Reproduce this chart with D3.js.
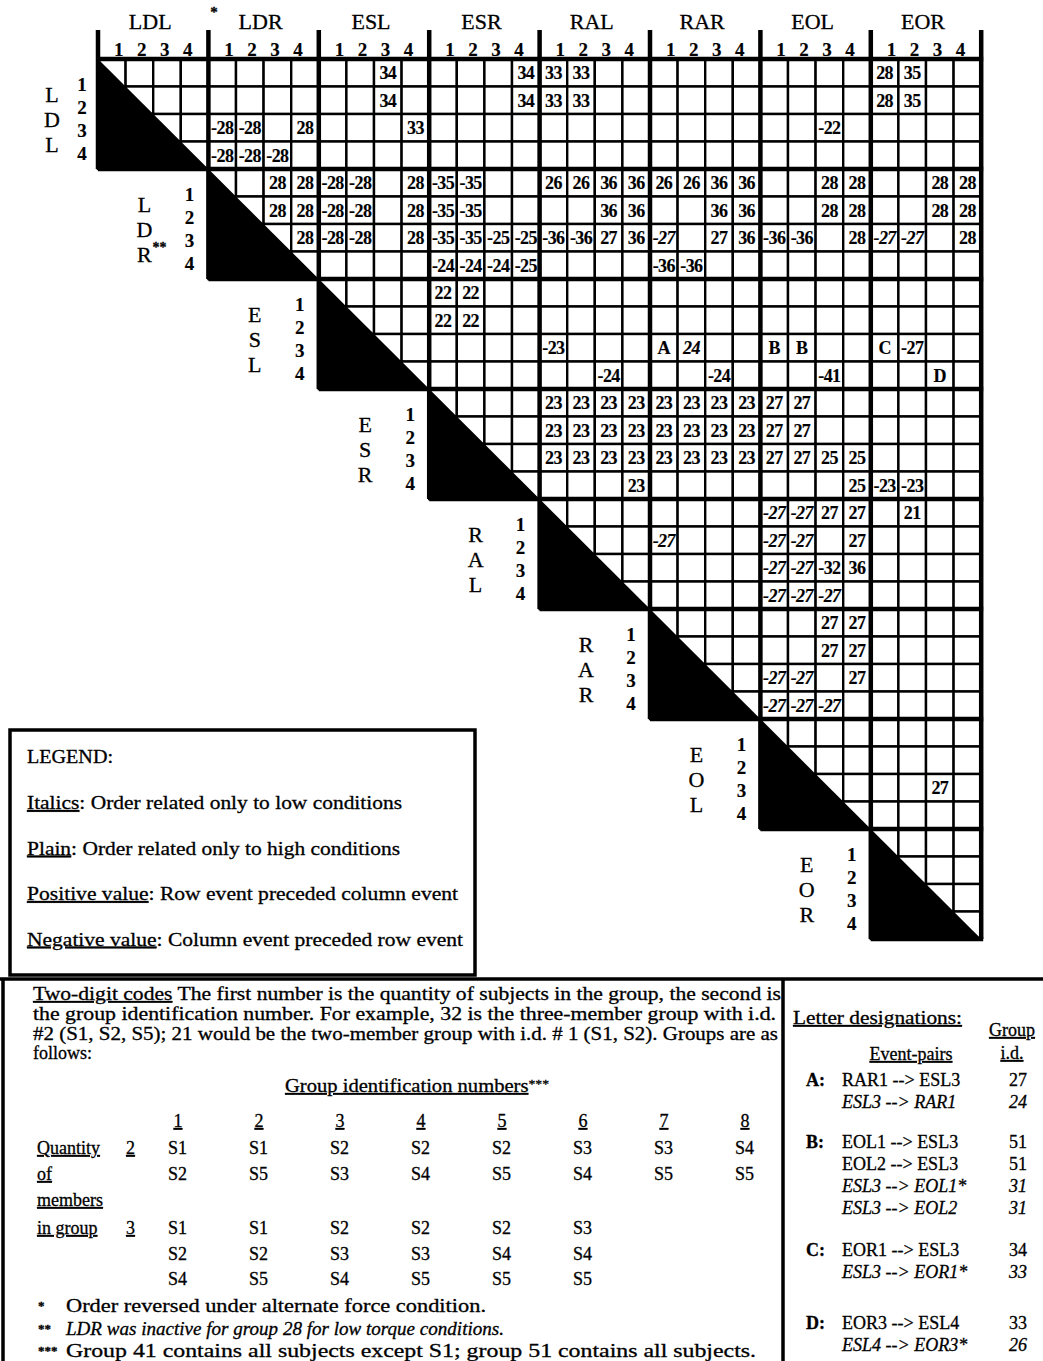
<!DOCTYPE html>
<html>
<head>
<meta charset="utf-8">
<script src="https://cdn.jsdelivr.net/npm/d3@7"></script>
<style>
body { margin: 0; background: #fff; }
text { font-family: "Liberation Serif", "DejaVu Serif", serif; fill: #000; stroke: #000; stroke-width: 0.3; }
text.bold { stroke-width: 0.15; }
</style>
</head>
<body>
<svg id="chart" width="1043" height="1361"></svg>
<script>
// event groups and their stacked row letters
const groups = ['LDL', 'LDR', 'ESL', 'ESR', 'RAL', 'RAR', 'EOL', 'EOR'];
const rowLetters = [['L','D','L'], ['L','D','R'], ['E','S','L'], ['E','S','R'],
                    ['R','A','L'], ['R','A','R'], ['E','O','L'], ['E','O','R']];
const subNums = ['1', '2', '3', '4'];

// [row event, column event, code, italic]
const cells = [
  ['LDL1','ESL3','34'], ['LDL1','ESR4','34'], ['LDL1','RAL1','33'], ['LDL1','RAL2','33'], ['LDL1','EOR1','28'], ['LDL1','EOR2','35'],
  ['LDL2','ESL3','34'], ['LDL2','ESR4','34'], ['LDL2','RAL1','33'], ['LDL2','RAL2','33'], ['LDL2','EOR1','28'], ['LDL2','EOR2','35'],
  ['LDL3','LDR1','-28'], ['LDL3','LDR2','-28'], ['LDL3','LDR4','28'], ['LDL3','ESL4','33'], ['LDL3','EOL3','-22'],
  ['LDL4','LDR1','-28'], ['LDL4','LDR2','-28'], ['LDL4','LDR3','-28'],
  ['LDR1','LDR3','28'], ['LDR1','LDR4','28'], ['LDR1','ESL1','-28'], ['LDR1','ESL2','-28'], ['LDR1','ESL4','28'],
  ['LDR1','ESR1','-35'], ['LDR1','ESR2','-35'], ['LDR1','RAL1','26'], ['LDR1','RAL2','26'], ['LDR1','RAL3','36'], ['LDR1','RAL4','36'],
  ['LDR1','RAR1','26'], ['LDR1','RAR2','26'], ['LDR1','RAR3','36'], ['LDR1','RAR4','36'],
  ['LDR1','EOL3','28'], ['LDR1','EOL4','28'], ['LDR1','EOR3','28'], ['LDR1','EOR4','28'],
  ['LDR2','LDR3','28'], ['LDR2','LDR4','28'], ['LDR2','ESL1','-28'], ['LDR2','ESL2','-28'], ['LDR2','ESL4','28'],
  ['LDR2','ESR1','-35'], ['LDR2','ESR2','-35'], ['LDR2','RAL3','36'], ['LDR2','RAL4','36'], ['LDR2','RAR3','36'], ['LDR2','RAR4','36'],
  ['LDR2','EOL3','28'], ['LDR2','EOL4','28'], ['LDR2','EOR3','28'], ['LDR2','EOR4','28'],
  ['LDR3','LDR4','28'], ['LDR3','ESL1','-28'], ['LDR3','ESL2','-28'], ['LDR3','ESL4','28'],
  ['LDR3','ESR1','-35'], ['LDR3','ESR2','-35'], ['LDR3','ESR3','-25'], ['LDR3','ESR4','-25'],
  ['LDR3','RAL1','-36'], ['LDR3','RAL2','-36'], ['LDR3','RAL3','27'], ['LDR3','RAL4','36'],
  ['LDR3','RAR1','-27',1], ['LDR3','RAR3','27'], ['LDR3','RAR4','36'],
  ['LDR3','EOL1','-36'], ['LDR3','EOL2','-36'], ['LDR3','EOL4','28'],
  ['LDR3','EOR1','-27',1], ['LDR3','EOR2','-27',1], ['LDR3','EOR4','28'],
  ['LDR4','ESR1','-24'], ['LDR4','ESR2','-24'], ['LDR4','ESR3','-24'], ['LDR4','ESR4','-25'], ['LDR4','RAR1','-36'], ['LDR4','RAR2','-36'],
  ['ESL1','ESR1','22'], ['ESL1','ESR2','22'], ['ESL2','ESR1','22'], ['ESL2','ESR2','22'],
  ['ESL3','RAL1','-23'], ['ESL3','RAR1','A'], ['ESL3','RAR2','24',1], ['ESL3','EOL1','B'], ['ESL3','EOL2','B'],
  ['ESL3','EOR1','C'], ['ESL3','EOR2','-27'],
  ['ESL4','RAL3','-24'], ['ESL4','RAR3','-24'], ['ESL4','EOL3','-41'], ['ESL4','EOR3','D'],
  ['ESR1','RAL1','23'], ['ESR1','RAL2','23'], ['ESR1','RAL3','23'], ['ESR1','RAL4','23'],
  ['ESR1','RAR1','23'], ['ESR1','RAR2','23'], ['ESR1','RAR3','23'], ['ESR1','RAR4','23'], ['ESR1','EOL1','27'], ['ESR1','EOL2','27'],
  ['ESR2','RAL1','23'], ['ESR2','RAL2','23'], ['ESR2','RAL3','23'], ['ESR2','RAL4','23'],
  ['ESR2','RAR1','23'], ['ESR2','RAR2','23'], ['ESR2','RAR3','23'], ['ESR2','RAR4','23'], ['ESR2','EOL1','27'], ['ESR2','EOL2','27'],
  ['ESR3','RAL1','23'], ['ESR3','RAL2','23'], ['ESR3','RAL3','23'], ['ESR3','RAL4','23'],
  ['ESR3','RAR1','23'], ['ESR3','RAR2','23'], ['ESR3','RAR3','23'], ['ESR3','RAR4','23'],
  ['ESR3','EOL1','27'], ['ESR3','EOL2','27'], ['ESR3','EOL3','25'], ['ESR3','EOL4','25'],
  ['ESR4','RAL4','23'], ['ESR4','EOL4','25'], ['ESR4','EOR1','-23'], ['ESR4','EOR2','-23'],
  ['RAL1','EOL1','-27',1], ['RAL1','EOL2','-27',1], ['RAL1','EOL3','27'], ['RAL1','EOL4','27'], ['RAL1','EOR2','21'],
  ['RAL2','RAR1','-27',1], ['RAL2','EOL1','-27',1], ['RAL2','EOL2','-27',1], ['RAL2','EOL4','27'],
  ['RAL3','EOL1','-27',1], ['RAL3','EOL2','-27',1], ['RAL3','EOL3','-32'], ['RAL3','EOL4','36'],
  ['RAL4','EOL1','-27',1], ['RAL4','EOL2','-27',1], ['RAL4','EOL3','-27',1],
  ['RAR1','EOL3','27'], ['RAR1','EOL4','27'], ['RAR2','EOL3','27'], ['RAR2','EOL4','27'],
  ['RAR3','EOL1','-27',1], ['RAR3','EOL2','-27',1], ['RAR3','EOL4','27'],
  ['RAR4','EOL1','-27',1], ['RAR4','EOL2','-27',1], ['RAR4','EOL3','-27',1],
  ['EOL3','EOR3','27']
];

// legend and notes
const legendLines = [
  ['Italics', ':  Order related only to low conditions', 375],
  ['Plain', ':  Order related only to high conditions', 373],
  ['Positive value', ':  Row event  preceded column event', 431],
  ['Negative value', ':  Column event preceded row event', 436]
];
const groupIds = ['1', '2', '3', '4', '5', '6', '7', '8'];
const pairGroups = [['S1','S2'], ['S1','S5'], ['S2','S3'], ['S2','S4'], ['S2','S5'], ['S3','S4'], ['S3','S5'], ['S4','S5']];
const tripleGroups = [['S1','S2','S4'], ['S1','S2','S5'], ['S2','S3','S4'], ['S2','S3','S5'], ['S2','S4','S5'], ['S3','S4','S5']];
// [letter, pair, group id, italic]
const letterPairs = [
  ['A:', 'RAR1 --> ESL3', '27', 0], ['', 'ESL3 --> RAR1', '24', 1],
  ['B:', 'EOL1 --> ESL3', '51', 0], ['', 'EOL2 --> ESL3', '51', 0], ['', 'ESL3 --> EOL1*', '31', 1], ['', 'ESL3 --> EOL2', '31', 1],
  ['C:', 'EOR1 --> ESL3', '34', 0], ['', 'ESL3 --> EOR1*', '33', 1],
  ['D:', 'EOR3 --> ESL4', '33', 0], ['', 'ESL4 --> EOR3*', '26', 1]
];
const letterRowY = [1080, 1102, 1142, 1164, 1186, 1208, 1250, 1272, 1323, 1345];

const svg = d3.select('#chart');
const events = groups.flatMap(g => subNums.map(n => g + n));

const x0 = 98, y0 = 59, cw = 27.6, ch = 27.5;
const xScale = d3.scaleBand().domain(events).range([x0, x0 + 32 * cw]);
const yScale = d3.scaleBand().domain(events).range([y0, y0 + 32 * ch]);
const gxScale = d3.scaleBand().domain(groups).range([x0, x0 + 32 * cw]);
const gyScale = d3.scaleBand().domain(groups).range([y0, y0 + 32 * ch]);
const bw = gxScale.bandwidth(), bh = gyScale.bandwidth();

// cells of the upper triangle
const grid = [];
events.forEach((r, i) => {
  events.forEach((c, j) => {
    if (j >= 4 * Math.floor(i / 4)) grid.push({ r, c });
  });
});

svg.append('g')
  .selectAll('rect')
  .data(grid)
  .enter()
  .append('rect')
  .attr('x', d => xScale(d.c))
  .attr('y', d => yScale(d.r))
  .attr('width', xScale.bandwidth())
  .attr('height', yScale.bandwidth())
  .attr('fill', '#fff')
  .attr('stroke', '#000')
  .attr('stroke-width', 2.4);

// black triangles on the diagonal blocks
svg.append('g')
  .selectAll('path')
  .data(groups)
  .enter()
  .append('path')
  .attr('d', g => {
    const x = gxScale(g), y = gyScale(g);
    return `M${x},${y} L${x + bw},${y + bh} L${x},${y + bh} Z`;
  })
  .attr('fill', '#000');

// heavy group lines
const right = x0 + 32 * cw, bottom = y0 + 32 * ch;
const thick = svg.append('g').attr('stroke', '#000').attr('stroke-width', 4.5);
d3.range(9).forEach(k => {
  const x = x0 + k * bw;
  thick.append('line')
    .attr('x1', x).attr('x2', x)
    .attr('y1', 30)
    .attr('y2', k < 8 ? y0 + (k + 1) * bh : bottom);
  const y = y0 + k * bh;
  thick.append('line')
    .attr('y1', y).attr('y2', y)
    .attr('x1', k === 0 ? x0 : x0 + (k - 1) * bw)
    .attr('x2', right + 2);
});

// column headers
groups.forEach(g => {
  const cx = gxScale(g) + bw / 2;
  svg.append('text')
    .attr('x', cx - 3).attr('y', 29)
    .attr('text-anchor', 'middle')
    .attr('font-size', 22)
    .text(g);
  subNums.forEach((n, i) => {
    svg.append('text').attr('class', 'bold')
      .attr('x', cx + (i - 1.5) * 23).attr('y', 56)
      .attr('text-anchor', 'middle')
      .attr('font-size', 19).attr('font-weight', 'bold')
      .text(n);
  });
});
svg.append('text').attr('x', 214).attr('y', 17).attr('text-anchor', 'middle')
  .attr('font-size', 15).attr('font-weight', 'bold').text('*');

// row labels
groups.forEach((g, gi) => {
  const left = gxScale(g), cy = gyScale(g) + bh / 2 + 5;
  const numX = gi === 0 ? 82 : left - 19;
  const letX = gi === 0 ? 52 : left - 64;
  subNums.forEach((n, i) => {
    svg.append('text').attr('class', 'bold')
      .attr('x', numX).attr('y', cy + (i - 1.5) * 23)
      .attr('dy', '0.35em')
      .attr('text-anchor', 'middle')
      .attr('font-size', 19).attr('font-weight', 'bold')
      .text(n);
  });
  rowLetters[gi].forEach((t, i) => {
    const lt = svg.append('text')
      .attr('x', letX).attr('y', cy + (i - 1) * 25)
      .attr('dy', '0.35em')
      .attr('text-anchor', 'middle')
      .attr('font-size', 22)
      .text(t);
    if (gi === 1 && i === 2) {
      svg.append('text').attr('x', letX + 8).attr('y', cy + 25 - 2)
        .attr('font-size', 14).attr('font-weight', 'bold').text('**');
    }
  });
});

// cell codes
svg.append('g')
  .selectAll('text')
  .data(cells)
  .enter()
  .append('text')
  .attr('class', 'bold')
  .attr('x', d => xScale(d[1]) + xScale.bandwidth() / 2)
  .attr('y', d => yScale(d[0]) + yScale.bandwidth() / 2)
  .attr('dy', '0.36em')
  .attr('text-anchor', 'middle')
  .attr('font-size', 18)
  .attr('font-weight', 'bold')
  .attr('font-style', d => d[3] ? 'italic' : 'normal')
  .attr('letter-spacing', -0.6)
  .text(d => d[2]);

// legend box
svg.append('rect')
  .attr('x', 10).attr('y', 730).attr('width', 465).attr('height', 245)
  .attr('fill', 'none').attr('stroke', '#000').attr('stroke-width', 3.5);
svg.append('text').attr('x', 27).attr('y', 763).attr('font-size', 18)
  .attr('textLength', 86).attr('lengthAdjust', 'spacingAndGlyphs').text('LEGEND:');
legendLines.forEach((d, i) => {
  const t = svg.append('text')
    .attr('x', 27).attr('y', 809 + i * 45.5)
    .attr('font-size', 19)
    .attr('textLength', d[2]).attr('lengthAdjust', 'spacingAndGlyphs');
  t.append('tspan').style('text-decoration', 'underline').text(d[0]);
  t.append('tspan').text(d[1]);
});

// notes frame
const frame = svg.append('g').attr('stroke', '#000').attr('stroke-width', 3.5);
frame.append('line').attr('x1', 0).attr('x2', 1043).attr('y1', 979).attr('y2', 979);
frame.append('line').attr('x1', 3).attr('x2', 3).attr('y1', 979).attr('y2', 1361);
frame.append('line').attr('x1', 783).attr('x2', 783).attr('y1', 979).attr('y2', 1361);

const para = [
  [['Two-digit codes', 'u'], ['  The first number is the quantity of subjects in the group, the second is', '']],
  [['the group identification number.  For example, 32 is the three-member group with i.d.', '']],
  [['#2 (S1, S2, S5); 21 would be the two-member group with i.d. # 1 (S1, S2).  Groups are as', '']],
  [['follows:', '']]
];
const paraLen = [748, 743, 745, 0];
const paraY = [1000, 1020, 1040, 1059];
para.forEach((parts, i) => {
  const t = svg.append('text').attr('x', 33).attr('y', paraY[i]).attr('font-size', 18);
  if (paraLen[i]) t.attr('textLength', paraLen[i]).attr('lengthAdjust', 'spacingAndGlyphs');
  parts.forEach(p => {
    const s = t.append('tspan').text(p[0]);
    if (p[1] === 'u') s.style('text-decoration', 'underline');
  });
});

const gidTitle = svg.append('text').attr('x', 285).attr('y', 1092).attr('font-size', 18)
  .attr('textLength', 264).attr('lengthAdjust', 'spacingAndGlyphs');
gidTitle.append('tspan').style('text-decoration', 'underline').text('Group identification numbers');
gidTitle.append('tspan').attr('font-size', 12).attr('dy', -4).text('***');

const colX = d3.scaleBand().domain(groupIds).range([168, 168 + 8 * 81]);
svg.selectAll('.gid')
  .data(groupIds)
  .enter()
  .append('text')
  .attr('x', d => colX(d) + 10).attr('y', 1127)
  .attr('text-anchor', 'middle').attr('font-size', 18)
  .style('text-decoration', 'underline')
  .text(d => d);

const pairY = [1154, 1180];
const tripleY = [1234, 1260, 1285];
pairGroups.forEach((m, i) => {
  m.forEach((s, k) => {
    svg.append('text').attr('x', colX(groupIds[i])).attr('y', pairY[k]).attr('font-size', 18).text(s);
  });
});
tripleGroups.forEach((m, i) => {
  m.forEach((s, k) => {
    svg.append('text').attr('x', colX(groupIds[i])).attr('y', tripleY[k]).attr('font-size', 18).text(s);
  });
});
[['Quantity', 1154], ['of', 1180], ['members', 1206], ['in group', 1234]].forEach(d => {
  svg.append('text').attr('x', 37).attr('y', d[1]).attr('font-size', 18)
    .style('text-decoration', 'underline').text(d[0]);
});
[['2', 1154], ['3', 1234]].forEach(d => {
  svg.append('text').attr('x', 126).attr('y', d[1]).attr('font-size', 18)
    .style('text-decoration', 'underline').text(d[0]);
});

const notes = [
  ['*', 'Order reversed under alternate force condition.', 420, 1312, 0],
  ['**', 'LDR was inactive for group 28 for low torque conditions.', 438, 1335, 1],
  ['***', 'Group 41 contains all subjects except S1; group 51 contains all subjects.', 690, 1357, 0]
];
notes.forEach(d => {
  svg.append('text').attr('x', 38).attr('y', d[3] - 2).attr('font-size', 13).attr('font-weight', 'bold').text(d[0]);
  svg.append('text').attr('x', 66).attr('y', d[3]).attr('font-size', 18)
    .attr('font-style', d[4] ? 'italic' : 'normal')
    .attr('textLength', d[2]).attr('lengthAdjust', 'spacingAndGlyphs')
    .text(d[1]);
});

// letter designations box
svg.append('text').attr('x', 793).attr('y', 1024).attr('font-size', 18)
  .attr('textLength', 169).attr('lengthAdjust', 'spacingAndGlyphs')
  .style('text-decoration', 'underline').text('Letter designations:');
svg.append('text').attr('x', 1012).attr('y', 1036).attr('font-size', 18).attr('text-anchor', 'middle')
  .style('text-decoration', 'underline').text('Group');
svg.append('text').attr('x', 1012).attr('y', 1059).attr('font-size', 18).attr('text-anchor', 'middle')
  .style('text-decoration', 'underline').text('i.d.');
svg.append('text').attr('x', 911).attr('y', 1060).attr('font-size', 18).attr('text-anchor', 'middle')
  .style('text-decoration', 'underline').text('Event-pairs');
letterPairs.forEach((d, i) => {
  const y = letterRowY[i] + 6;
  if (d[0]) svg.append('text').attr('x', 806).attr('y', y).attr('font-size', 18).attr('font-weight', 'bold').text(d[0]);
  svg.append('text').attr('x', 842).attr('y', y).attr('font-size', 18)
    .attr('font-style', d[3] ? 'italic' : 'normal').text(d[1]);
  svg.append('text').attr('x', 1018).attr('y', y).attr('font-size', 18).attr('text-anchor', 'middle')
    .attr('font-style', d[3] ? 'italic' : 'normal').text(d[2]);
});
</script>
</body>
</html>
